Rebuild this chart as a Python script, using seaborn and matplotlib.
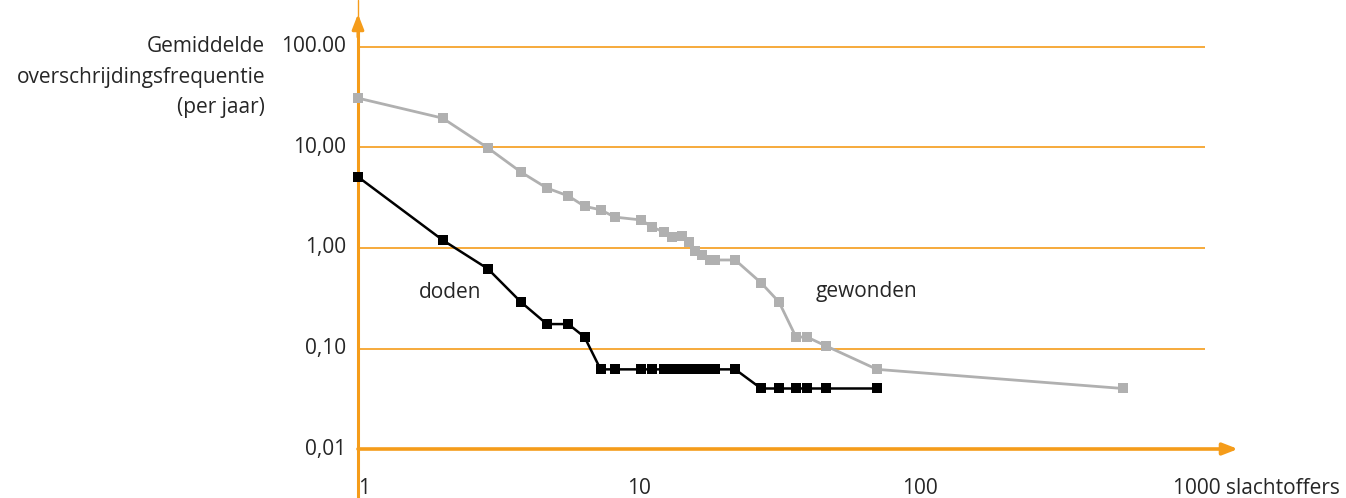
import numpy as np
import pandas as pd
import matplotlib
matplotlib.use("Agg")
import matplotlib.pyplot as plt
import seaborn as sns

# data (x = slachtoffers, y = frequentie per jaar)
gewonden_x = [1, 2, 2.9, 3.8, 4.7, 5.6, 6.4, 7.3, 8.2, 10.2, 11.1, 12.3, 13.1, 14.2, 15.1,
              15.8, 16.7, 17.9, 18.6, 22, 27.2, 31.5, 36.2, 39.6, 46.3, 70.3, 527]
gewonden_y = [31, 19.6, 9.9, 5.7, 3.95, 3.3, 2.6, 2.4, 2.03, 1.9, 1.62, 1.44, 1.28, 1.31, 1.15,
              0.93, 0.85, 0.76, 0.76, 0.76, 0.45, 0.29, 0.13, 0.13, 0.106, 0.062, 0.04]

doden_x = [1, 2, 2.9, 3.8, 4.7, 5.6, 6.4, 7.3, 8.2, 10.2, 11.1, 12.3, 13.1, 14.2, 15.1,
           15.8, 16.7, 17.9, 18.6, 22, 27.2, 31.5, 36.2, 39.6, 46.3, 70.3]
doden_y = [5.1, 1.2, 0.62, 0.29, 0.175, 0.175, 0.13, 0.062, 0.062, 0.062, 0.062, 0.062, 0.062,
           0.062, 0.062, 0.062, 0.062, 0.062, 0.062, 0.062, 0.04, 0.04, 0.04, 0.04, 0.04, 0.04]

y_ticks = [100, 10, 1, 0.1, 0.01]
y_labels = ["100.00", "10,00", "1,00", "0,10", "0,01"]
x_ticks = [1, 10, 100, 1000]
x_labels = ["1", "10", "100", "1000 slachtoffers"]

orange = "#f59c1a"
grey = "#b0b0b0"

sns.set_style("white")
plt.rcParams['font.family'] = ['Open Sans', 'DejaVu Sans']

fig = plt.figure(figsize=(13.46, 4.98), dpi=100)
ax = fig.add_axes([0, 0, 1, 1])
ax.set_xscale("log")
ax.set_yscale("log")
# pixel mapping: x=1 at 358px, 281px per decade; y=100 at 47px, 100.5px per decade
ax.set_xlim(10 ** (-358 / 281), 10 ** ((1346 - 358) / 281))
ax.set_ylim(10 ** (-2 - 49 / 100.5), 10 ** (2 + 47 / 100.5))
ax.axis("off")

x_end = 10 ** ((1205 - 358) / 281)
# grid lines
ax.hlines(y_ticks[:-1], 1, x_end, color=orange, lw=1.2, zorder=1)

# axes with arrows
ax.plot([1, 1], [ax.get_ylim()[0], ax.get_ylim()[1]], color=orange, lw=1.0, zorder=1)
ax.plot([1, 1], [ax.get_ylim()[0], 10 ** (2 + 20 / 100.5)], color=orange, lw=2.2, zorder=1)
ax.annotate("", xy=(1, 10 ** (2 + 33 / 100.5)), xytext=(1, 10 ** (2 + 10 / 100.5)),
            arrowprops=dict(arrowstyle="-|>,head_length=0.9,head_width=0.35",
                            color=orange, lw=2.2, shrinkA=0, shrinkB=0))
x_arrow = 10 ** ((1238 - 358) / 281)
ax.annotate("", xy=(x_arrow, 0.01), xytext=(1, 0.01),
            arrowprops=dict(arrowstyle="-|>,head_length=0.9,head_width=0.35",
                            color=orange, lw=2.6, shrinkA=0, shrinkB=0))

df_g = pd.DataFrame({"x": gewonden_x, "y": gewonden_y})
df_d = pd.DataFrame({"x": doden_x, "y": doden_y})
sns.lineplot(data=df_g, x="x", y="y", ax=ax, color=grey, lw=2, marker="s",
             markersize=7.3, markeredgewidth=0, sort=False, zorder=3)
sns.lineplot(data=df_d, x="x", y="y", ax=ax, color="black", lw=1.8, marker="s",
             markersize=7, markeredgewidth=0, sort=False, zorder=4)
ax.set_xlabel("")
ax.set_ylabel("")

fs = 15
# tick labels
x_lab_pos = 10 ** ((346 - 358) / 281)
for t, lab in zip(y_ticks, y_labels):
    ax.text(x_lab_pos, t, lab, ha="right", va="center", fontsize=fs)
y_lab_pos = 10 ** (-2 - 39 / 100.5)
for t, lab in zip(x_ticks, x_labels):
    if t == 1:
        ax.text(t, y_lab_pos, lab, ha="left", va="center", fontsize=fs)
    elif t == 1000:
        ax.text(10 ** (3 - 28 / 281), y_lab_pos, lab, ha="left", va="center", fontsize=fs)
    else:
        ax.text(t, y_lab_pos, lab, ha="center", va="center", fontsize=fs)

ax.text(10 ** ((265 - 358) / 281), 100 * 10 ** (11 / 100.5),
        "Gemiddelde\noverschrijdingsfrequentie\n(per jaar)",
        ha="right", va="top", fontsize=fs, linespacing=1.6,
        transform=ax.transData)

ax.text(10 ** ((450 - 358) / 281), 10 ** (2 - 245 / 100.5), "doden",
        ha="center", va="center", fontsize=fs)
ax.text(10 ** ((866 - 358) / 281), 10 ** (2 - 245 / 100.5), "gewonden",
        ha="center", va="center", fontsize=fs)

fig.savefig("out.png", dpi=100)
